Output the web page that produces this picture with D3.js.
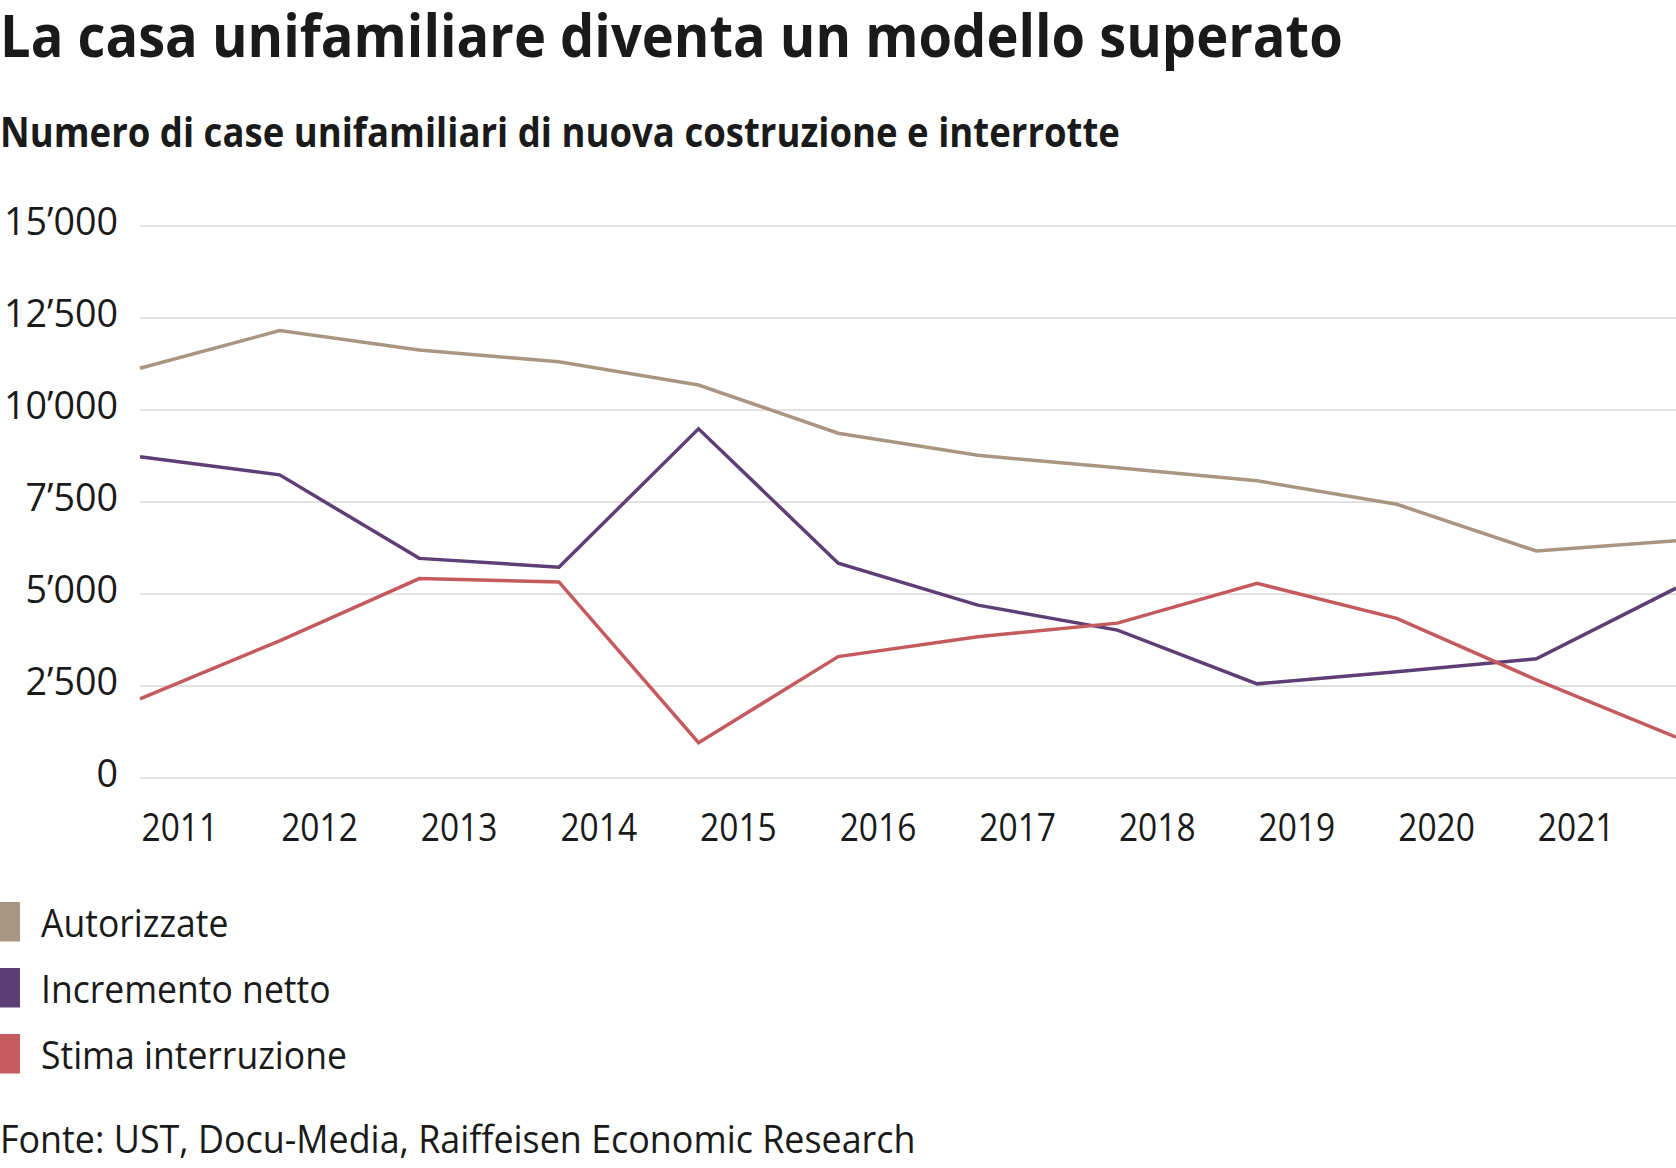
<!DOCTYPE html>
<html>
<head>
<meta charset="utf-8">
<script src="https://cdn.jsdelivr.net/npm/d3@7"></script>
<style>
body { margin: 0; background: #fff; }
text { font-family: "Open Sans", "Noto Sans", sans-serif; fill: #1a1a1a; }
</style>
</head>
<body>
<script>
///////////////////   Data   /////////////////

var years = [2011, 2012, 2013, 2014, 2015, 2016, 2017, 2018, 2019, 2020, 2021, 2022];
var tickYears = [2011, 2012, 2013, 2014, 2015, 2016, 2017, 2018, 2019, 2020, 2021];

var autorizzate = [11125, 12150, 11620, 11300, 10670, 9360, 8760, 8420, 8070, 7430, 6160, 6440];
var incremento  = [8720, 8230, 5960, 5720, 9480, 5830, 4690, 4010, 2550, 2880, 3230, 5150];
var stima       = [2140, 3720, 5410, 5320, 950, 3290, 3830, 4200, 5280, 4330, 2660, 1100];

var yTicks = [0, 2500, 5000, 7500, 10000, 12500, 15000];

var seriesNames  = ["Autorizzate", "Incremento netto", "Stima interruzione"];
var seriesValues = [autorizzate, incremento, stima];
var seriesColors = ["#a89682", "#5d3f75", "#c55a5e"];

var title    = "La casa unifamiliare diventa un modello superato",
    subtitle = "Numero di case unifamiliari di nuova costruzione e interrotte",
    source   = "Fonte: UST, Docu-Media, Raiffeisen Economic Research";

///////////////////   Layout   /////////////////

var width = 1676, height = 1168;
var plotLeft = 140, plotRight = 1676, plotTop = 225.7, plotBottom = 777.7;

// the reference font runs narrower than Open Sans, so texts get squeezed horizontally
var titleWidth = 1343, subtitleWidth = 1120, sourceWidth = 916,
    legendFirstWidth = 187.5, yLabelWidth = 114, xLabelWidth = 76.7;

var nf = d3.formatLocale({decimal: ".", thousands: "\u2019", grouping: [3], currency: ["", ""]}).format(",");

var svg = d3.select("body").append("svg")
    .attr("width", width)
    .attr("height", height);

var x = d3.scalePoint().domain(years).range([plotLeft, plotRight]);
var y = d3.scaleLinear().domain([0, 15000]).range([plotBottom, plotTop]);

////////////////	Helpers      //////////////

// squeeze a text horizontally around its own x position
function squeeze(sel, f) {
    sel.each(function() {
        var t = d3.select(this), tx = +t.attr("x") || 0;
        var prev = t.attr("transform") || "";
        t.attr("transform", prev + " translate(" + tx + ",0) scale(" + f + ",1) translate(" + (-tx) + ",0)");
    });
}

function factorFor(node, target) {
    return target / node.getComputedTextLength();
}

////////////////	Titles      //////////////

var tTitle = svg.append("text")
    .attr("x", 0).attr("y", 57)
    .attr("font-size", 60).attr("font-weight", 700)
    .text(title);
squeeze(tTitle, factorFor(tTitle.node(), titleWidth));

var tSub = svg.append("text")
    .attr("x", 0).attr("y", 147.5)
    .attr("font-size", 42).attr("font-weight", 700)
    .text(subtitle);
squeeze(tSub, factorFor(tSub.node(), subtitleWidth));

////////////////	Axes      //////////////

var yAxis = svg.append("g")
    .attr("transform", "translate(" + plotLeft + ",0)")
    .call(d3.axisLeft(y).tickValues(yTicks).tickFormat(nf)
        .tickSize(-(plotRight - plotLeft)).tickPadding(22));
yAxis.select(".domain").remove();
yAxis.selectAll(".tick line").attr("stroke", "#dedede").attr("stroke-width", 1.8);
yAxis.selectAll(".tick text")
    .attr("font-size", 38).attr("font-family", null).attr("fill", "#1a1a1a")
    .attr("dy", "0.24em");
var yLab = yAxis.selectAll(".tick text").filter(function(d) { return d === 15000; }).node();
squeeze(yAxis.selectAll(".tick text"), factorFor(yLab, yLabelWidth));

var xAxis = svg.append("g")
    .attr("transform", "translate(0," + plotBottom + ")")
    .call(d3.axisBottom(x).tickValues(tickYears).tickSize(0).tickPadding(36));
xAxis.select(".domain").remove();
xAxis.selectAll(".tick text")
    .attr("font-size", 38).attr("fill", "#1a1a1a")
    .attr("text-anchor", "start").attr("x", 1);
var xLab = xAxis.selectAll(".tick text").filter(function(d) { return d === 2012; }).node();
squeeze(xAxis.selectAll(".tick text"), factorFor(xLab, xLabelWidth));
svg.selectAll(".tick text").attr("font-family", null);

////////////////	Lines      //////////////

var line = d3.line()
    .x(function(d, i) { return x(years[i]); })
    .y(function(d) { return y(d); });

svg.append("g").selectAll("path")
    .data(seriesValues)
  .enter().append("path")
    .attr("d", line)
    .attr("fill", "none")
    .attr("stroke", function(d, i) { return seriesColors[i]; })
    .attr("stroke-width", 3.5)
    .attr("stroke-linejoin", "miter");

////////////////	Legend      //////////////

var legendTop = 902, legendStep = 66;

var items = svg.append("g").selectAll("g")
    .data(seriesNames)
  .enter().append("g")
    .attr("transform", function(d, i) { return "translate(0," + (legendTop + i * legendStep) + ")"; });

items.append("rect")
    .attr("width", 20).attr("height", 39.5)
    .attr("fill", function(d, i) { return seriesColors[i]; });

var legTexts = items.append("text")
    .attr("x", 41).attr("y", 34.5)
    .attr("font-size", 38)
    .text(function(d) { return d; });
squeeze(legTexts, factorFor(legTexts.node(), legendFirstWidth));

////////////////	Source      //////////////

var tSrc = svg.append("text")
    .attr("x", 0).attr("y", 1153)
    .attr("font-size", 38)
    .text(source);
squeeze(tSrc, factorFor(tSrc.node(), sourceWidth));
</script>
</body>
</html>
